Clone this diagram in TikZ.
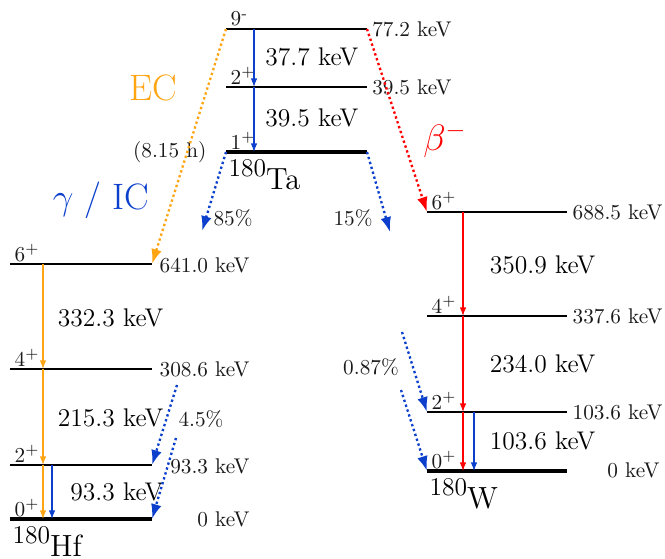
\documentclass[tikz,border=0pt]{standalone}
\usepackage{tikz}
\usetikzlibrary{arrows.meta, calc}
\definecolor{icBlue}{HTML}{0B3FCC}
\definecolor{ecOrange}{HTML}{FFA514}
\definecolor{betaRed}{HTML}{FF0000}
\definecolor{textMain}{HTML}{1A1A1A}
\tikzset{
  level/.style={line width=1pt},
  gslevel/.style={line width=2pt},
  spin/.style={anchor=south west, inner sep=1pt, xshift=1pt, text=textMain},
  energy/.style={anchor=east, inner sep=1pt, text=textMain},
  trlabel/.style={anchor=east, inner sep=1pt, font=\large},
  pct/.style={inner sep=1pt, text=textMain},
  nucname/.style={anchor=base west, inner sep=1pt, yshift=-17.4pt},
  sidelabel/.style={font=\LARGE, inner sep=1pt},
  trarrow/.style={-{Latex[length=4pt, width=3pt]}, line width=0.5pt},
  decarrow/.style={-{Latex[length=7pt, width=5pt]}, line width=1.1pt,
    dash pattern=on 1.1pt off 1.3pt},
}

\begin{document}
\begin{tikzpicture}[x=0.47pt, y=-0.47pt]
  \useasboundingbox (0,0) rectangle (665,558);

  % === 180Ta (top) ===
  \coordinate (ta9l) at (226,29);  \coordinate (ta9r) at (367,29);
  \coordinate (ta2l) at (226,87);  \coordinate (ta2r) at (367,87);
  \coordinate (ta1l) at (226,152); \coordinate (ta1r) at (367,152);
  \coordinate (tacol) at (254,0);
  \draw[level] (ta9l) -- (ta9r);
  \draw[level] (ta2l) -- (ta2r);
  \draw[gslevel] (ta1l) -- (ta1r);

  \node[spin] (ta9s) at (ta9l) {9\textsuperscript{-}};
  \node[spin] (ta2s) at (ta2l) {$2^+$};
  \node[spin] (ta1s) at (ta1l) {$1^+$};
  \node[energy] (ta9e) at (454,29) {77.2 keV};
  \node[energy] (ta2e) at (454,87) {39.5 keV};
  \node[anchor=east, inner sep=1pt, text=textMain] (tahalf) at (209,152) {(8.15 h)};
  \node[nucname] (taname) at (ta1l) {\raisebox{6pt}{\large 180}\Large Ta};

  \draw[trarrow, icBlue] (ta9l -| tacol) -- (ta2l -| tacol);
  \draw[trarrow, icBlue] (ta2l -| tacol) -- (ta1l -| tacol);
  \node[trlabel] (ta97) at (361,57) {37.7 keV};
  \node[trlabel] (ta21) at (361,118) {39.5 keV};

  % === 180Hf (left) ===
  \coordinate (hf6l) at (10,264);  \coordinate (hf6r) at (152,264);
  \coordinate (hf4l) at (10,369);  \coordinate (hf4r) at (152,369);
  \coordinate (hf2l) at (10,465);  \coordinate (hf2r) at (152,465);
  \coordinate (hf0l) at (10,519);  \coordinate (hf0r) at (152,519);
  \coordinate (hfcol) at (43,0);
  \coordinate (hfgcol) at (52,0);
  \draw[level] (hf6l) -- (hf6r);
  \draw[level] (hf4l) -- (hf4r);
  \draw[level] (hf2l) -- (hf2r);
  \draw[gslevel] (hf0l) -- (hf0r);

  \node[spin] (hf6s) at (hf6l) {$6^+$};
  \node[spin] (hf4s) at (hf4l) {$4^+$};
  \node[spin] (hf2s) at (hf2l) {$2^+$};
  \node[spin] (hf0s) at (hf0l) {$0^+$};
  \node[energy] (hf6e) at (252,265) {641.0 keV};
  \node[energy] (hf4e) at (252,369) {308.6 keV};
  \node[energy] (hf2e) at (252,466) {93.3 keV};
  \node[energy] (hf0e) at (252,519) {0 keV};
  \node[nucname] (hfname) at (hf0l) {\raisebox{6pt}{\large 180}\Large Hf};

  \draw[trarrow, ecOrange] (hf6l -| hfcol) -- (hf4l -| hfcol);
  \draw[trarrow, ecOrange] (hf4l -| hfcol) -- (hf2l -| hfcol);
  \draw[trarrow, ecOrange] (hf2l -| hfcol) -- (hf0l -| hfcol);
  \draw[trarrow, icBlue] (hf2l -| hfgcol) -- (hf0l -| hfgcol);
  \node[trlabel] (hf64) at (166,318) {332.3 keV};
  \node[trlabel] (hf42) at (166,418) {215.3 keV};
  \node[trlabel] (hf20) at (166,492) {93.3 keV};

  % === 180W (right) ===
  \coordinate (w6l) at (427,212);  \coordinate (w6r) at (567,212);
  \coordinate (w4l) at (427,316);  \coordinate (w4r) at (567,316);
  \coordinate (w2l) at (427,412);  \coordinate (w2r) at (567,412);
  \coordinate (w0l) at (427,471);  \coordinate (w0r) at (567,471);
  \coordinate (wcol) at (463,0);
  \coordinate (wgcol) at (474,0);
  \draw[level] (w6l) -- (w6r);
  \draw[level] (w4l) -- (w4r);
  \draw[level] (w2l) -- (w2r);
  \draw[gslevel] (w0l) -- (w0r);

  \node[spin] (w6s) at (w6l) {$6^+$};
  \node[spin] (w4s) at (w4l) {$4^+$};
  \node[spin] (w2s) at (w2l) {$2^+$};
  \node[spin] (w0s) at (w0l) {$0^+$};
  \node[energy] (w6e) at (665,212) {688.5 keV};
  \node[energy] (w4e) at (665,316) {337.6 keV};
  \node[energy] (w2e) at (665,412) {103.6 keV};
  \node[energy] (w0e) at (662,470) {0 keV};
  \node[nucname] (wname) at (w0l) {\raisebox{6pt}{\large 180}\Large W};

  \draw[trarrow, betaRed] (w6l -| wcol) -- (w4l -| wcol);
  \draw[trarrow, betaRed] (w4l -| wcol) -- (w2l -| wcol);
  \draw[trarrow, betaRed] (w2l -| wcol) -- (w0l -| wcol);
  \draw[trarrow, icBlue] (w2l -| wgcol) -- (w0l -| wgcol);
  \node[trlabel] (w64) at (598,265) {350.9 keV};
  \node[trlabel] (w42) at (598,364) {234.0 keV};
  \node[trlabel] (w20) at (598,441) {103.6 keV};

  % === Decay branches ===
  \draw[decarrow, ecOrange] (ta9l) -- (hf6r);
  \draw[decarrow, betaRed] (ta9r) -- (w6l);

  \coordinate (ta85) at (202,231);
  \coordinate (ta15) at (390,232);
  \draw[decarrow, icBlue] (ta1l) -- (ta85);
  \draw[decarrow, icBlue] (ta1r) -- (ta15);
  \node[pct] (ta85p) at (233,218) {85\%};
  \node[pct] (ta15p) at (353,218) {15\%};

  \coordinate (hfin4) at (177,385);
  \coordinate (hfin2) at (176,438);
  \draw[decarrow, icBlue] (hfin4) -- (hf2r);
  \draw[decarrow, icBlue] (hfin2) -- (hf0r);
  \node[pct] (hfp) at (201,419) {4.5\%};

  \coordinate (win4) at (402,332);
  \coordinate (win2) at (401,390);
  \draw[decarrow, icBlue] (win4) -- (w2l);
  \draw[decarrow, icBlue] (win2) -- (w0l);
  \node[pct] (wp) at (371,367) {0.87\%};

  % Side labels
  \node[sidelabel, text=ecOrange] (ec) at (153,88) {EC};
  \node[sidelabel, text=icBlue] (gic) at (101,200) {$\gamma$ / IC};
  \node[sidelabel, text=betaRed] (beta) at (445,140) {$\beta^-$};

\end{tikzpicture}
\end{document}
